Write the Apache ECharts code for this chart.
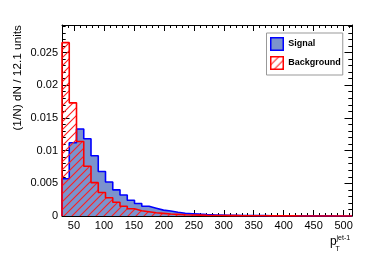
<!DOCTYPE html>
<html><head><meta charset="utf-8">
<script src="https://cdn.jsdelivr.net/npm/echarts@6/dist/echarts.min.js"></script>
<style>html,body{margin:0;padding:0;background:#fff}#c{width:374px;height:253px}</style>
</head><body><div id="c"></div>
<script>
// ---- data ----
const binStart = 30;
const binWidth = 12.1;
const signal = [0.0057, 0.0112, 0.0133, 0.0118, 0.0092, 0.0068, 0.0052, 0.0040, 0.0032, 0.0024,
  0.0019, 0.0015, 0.0012, 0.0009, 0.00076, 0.00058, 0.00042, 0.00035, 0.00028, 0.00022,
  0.00018, 0.00015, 0.00012, 0.00010, 0.00008, 0.00007, 0.00006, 0.00005, 0.00004, 0.00004,
  0.00003, 0.00003, 0.00003, 0.00002, 0.00002, 0.00002, 0.00002, 0.00001, 0.00001, 0.00001];
const background = [0.0265, 0.0173, 0.0114, 0.0076, 0.0051, 0.0036, 0.0028, 0.0021, 0.0015, 0.0011,
  0.0008, 0.00066, 0.0005, 0.0004, 0.0003, 0.00025, 0.0002, 0.00016, 0.00013, 0.0001,
  0.00008, 0.00007, 0.00006, 0.00005, 0.00004, 0.00004, 0.00003, 0.00003, 0.00002, 0.00002,
  0.00002, 0.00002, 0.00001, 0.00001, 0.00001, 0.00001, 0.00001, 0.00001, 0.00001, 0.00001];
const seriesNames = ['Signal', 'Background'];
const xTickLabels = ['50','100','150','200','250','300','350','400','450','500'];
const yTickLabels = ['0','0.005','0.01','0.015','0.02','0.025'];
const yTitle = '(1/N) dN / 12.1 units';

// ---- style helpers ----
const FONT = 'Liberation Sans, Arial, Helvetica, sans-serif';
function makeHatch() {
  const s = 8;
  const cv = document.createElement('canvas');
  cv.width = s; cv.height = s;
  const ctx = cv.getContext('2d');
  ctx.strokeStyle = 'rgb(255,30,30)';
  ctx.lineWidth = 1.1;
  ctx.beginPath();
  ctx.moveTo(0, s); ctx.lineTo(s, 0);
  ctx.moveTo(-1, 1); ctx.lineTo(1, -1);
  ctx.moveTo(s - 1, s + 1); ctx.lineTo(s + 1, s - 1);
  ctx.stroke();
  return { image: cv, repeat: 'repeat' };
}
const hatch = makeHatch();

function steps(vals) {
  const pts = [[binStart, 0]];
  vals.forEach((v, i) => pts.push([+(binStart + i * binWidth).toFixed(3), v]));
  const end = +(binStart + vals.length * binWidth).toFixed(3);
  pts.push([end, vals[vals.length - 1]]);
  pts.push([end, 0]);
  return pts;
}
const xMax = +(binStart + signal.length * binWidth).toFixed(3);

function xAxisCfg(pos, labels) {
  return {
    type: 'value', position: pos, min: binStart, max: xMax, splitNumber: 10,
    axisLine: { show: true, onZero: false, lineStyle: { color: '#000', width: 1 } },
    axisTick: { show: true, inside: true, length: 6, lineStyle: { color: '#000' } },
    minorTick: { show: true, splitNumber: 5, length: 3, lineStyle: { color: '#000' } },
    splitLine: { show: false },
    axisLabel: {
      show: labels, margin: 4, showMinLabel: false, showMaxLabel: false,
      color: '#000', fontSize: 11, fontFamily: FONT,
      formatter: v => { const s = String(Math.round(v)); return (Math.abs(v - Math.round(v)) < 1e-6 && xTickLabels.includes(s)) ? s : ''; }
    }
  };
}
function yAxisCfg(pos, labels) {
  return {
    type: 'value', position: pos, min: 0, max: 0.0292, interval: 0.005,
    axisLine: { show: true, onZero: false, lineStyle: { color: '#000', width: 1 } },
    axisTick: { show: true, inside: true, length: 7.5, lineStyle: { color: '#000' } },
    minorTick: { show: true, splitNumber: 5, length: 3.7, lineStyle: { color: '#000' } },
    splitLine: { show: false },
    axisLabel: {
      show: labels, margin: 4, showMaxLabel: false,
      color: '#000', fontSize: 11, fontFamily: FONT,
      formatter: v => { const s = String(+v.toFixed(4)); return yTickLabels.includes(s) ? s : ''; }
    }
  };
}

const chart = echarts.init(document.getElementById('c'), null, { renderer: 'canvas' });
chart.setOption({
  animation: false,
  backgroundColor: '#fff',
  grid: { left: 62, right: 22, top: 25, bottom: 37, containLabel: false },
  xAxis: [xAxisCfg('bottom', true), xAxisCfg('top', false)],
  yAxis: [yAxisCfg('left', true), yAxisCfg('right', false)],
  legend: {
    orient: 'vertical', left: 266.5, top: 33,
    padding: [4, 2, 5, 3.5], itemWidth: 12.5, itemHeight: 12.5, itemGap: 5,
    backgroundColor: '#fff', borderColor: '#999', borderWidth: 1, borderRadius: 0,
    textStyle: { fontFamily: FONT, fontWeight: 'bold', fontSize: 9, color: '#000' },
    data: [
      { name: seriesNames[0], icon: 'rect', itemStyle: { color: '#7b93cd', borderColor: '#0000ff', borderWidth: 1.5 } },
      { name: seriesNames[1], icon: 'rect', itemStyle: { color: hatch, borderColor: '#ff0000', borderWidth: 1.5 } }
    ]
  },
  series: [
    {
      type: 'line', name: seriesNames[0], step: 'end', data: steps(signal),
      xAxisIndex: 0, yAxisIndex: 0, symbol: 'none', showSymbol: false,
      lineStyle: { color: '#0000ff', width: 1.6 },
      itemStyle: { color: '#7b93cd' },
      areaStyle: { color: '#7b93cd', opacity: 1 }, z: 2
    },
    {
      type: 'line', name: seriesNames[1], step: 'end', data: steps(background),
      xAxisIndex: 0, yAxisIndex: 0, symbol: 'none', showSymbol: false,
      lineStyle: { color: '#ff0000', width: 1.6 },
      itemStyle: { color: '#ff0000' },
      areaStyle: { color: hatch, opacity: 1 }, z: 3
    }
  ],
  graphic: [
    { type: 'text', x: 17.5, y: 25, rotation: Math.PI / 2,
      style: { text: yTitle, fontSize: 11.8, fontFamily: FONT, fill: '#000', align: 'right', verticalAlign: 'middle' } },
    { type: 'text', x: 330, y: 242,
      style: { text: 'p', fontSize: 12, fontFamily: FONT, fill: '#000', align: 'left', verticalAlign: 'middle' } },
    { type: 'text', x: 336.5, y: 238,
      style: { text: 'jet-1', fontSize: 7, fontFamily: FONT, fill: '#000', align: 'left', verticalAlign: 'middle' } },
    { type: 'text', x: 335.5, y: 249.5,
      style: { text: 'T', fontSize: 7, fontFamily: FONT, fill: '#000', align: 'left', verticalAlign: 'middle' } }
  ]
});
</script>
</body></html>
